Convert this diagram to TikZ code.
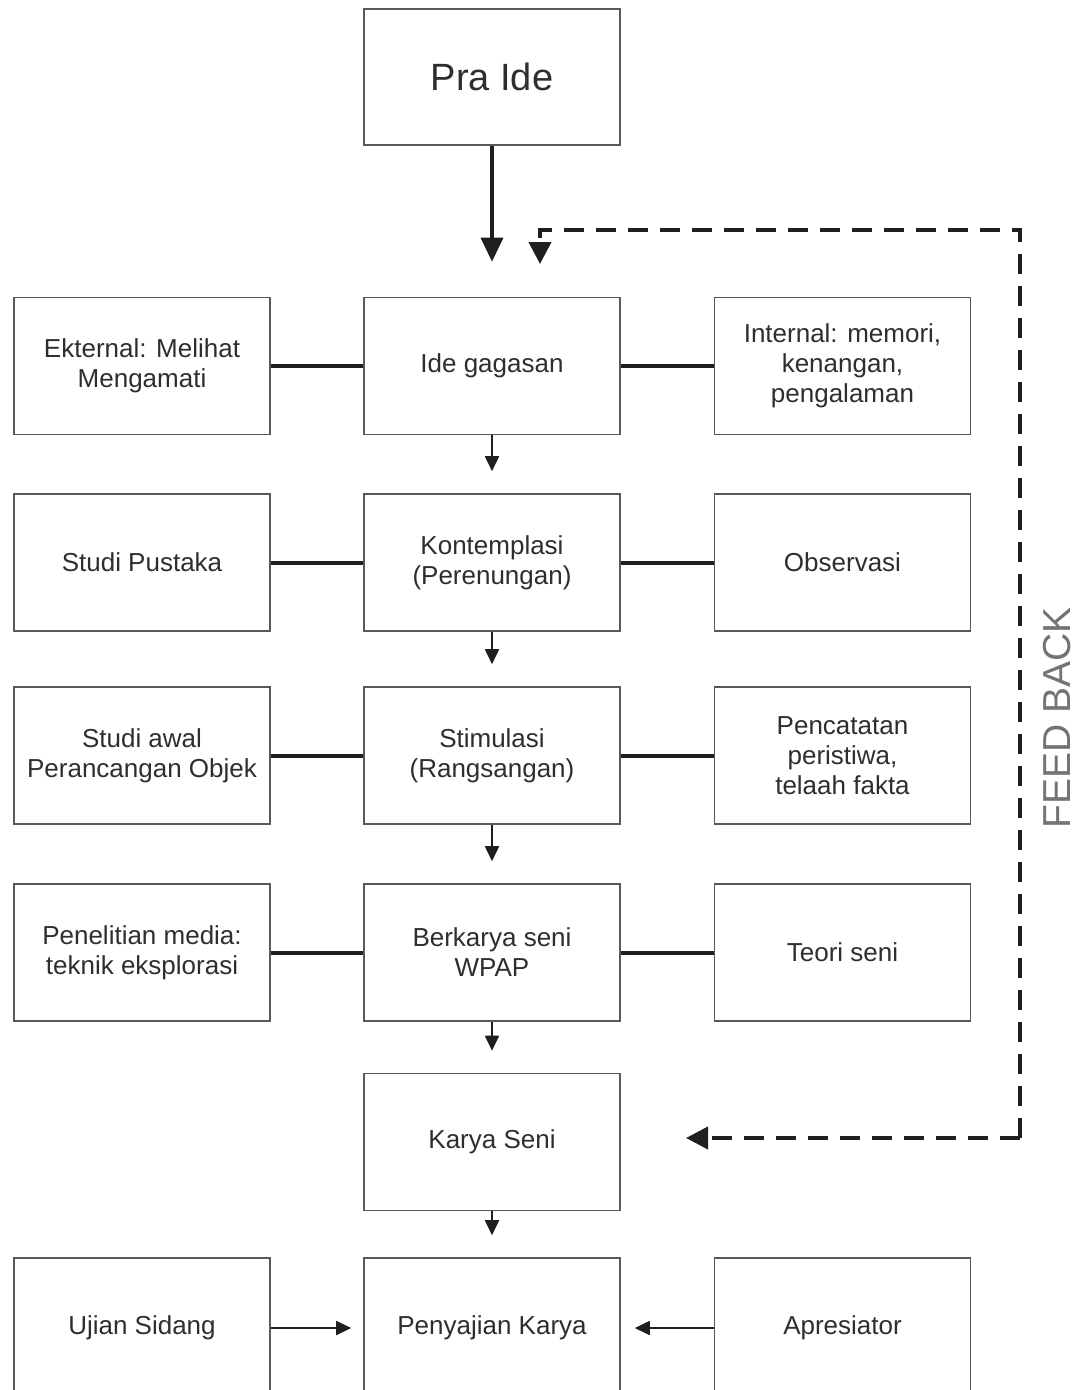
\documentclass[tikz,border=0pt]{standalone}
\usepackage{fontspec}
\setmainfont{Liberation Sans}
\usetikzlibrary{arrows.meta}
\begin{document}
\begin{tikzpicture}[x=1pt,y=-1pt,
  box/.style={draw=black!65, line width=1.6pt, minimum width=256pt, minimum height=137pt,
    inner sep=0pt, align=center, text=black!82, font=\fontsize{26}{30}\selectfont},
  conn/.style={line width=4pt, black!88},
  sarrow/.style={line width=1.8pt, black!88, -{Triangle[width=14pt,length=15pt]}},
  barrow/.style={line width=3.5pt, black!88, -{Triangle[width=22pt,length=24pt]}},
  fbline/.style={line width=4pt, black!88, dash pattern=on 20pt off 12pt},
]
\clip (0,0) rectangle (1083,1390);
\fill[white] (0,0) rectangle (1083,1390);

\node[box, minimum height=136pt, font=\fontsize{38}{44}\selectfont] (pra) at (492,77) {Pra Ide};

\node[box] (l1) at (142,366) {Ekternal: Melihat\\Mengamati};
\node[box] (c1) at (492,366) {Ide gagasan};
\node[box] (r1) at (842.5,366) {Internal: memori,\\kenangan,\\pengalaman};

\node[box] (l2) at (142,562.5) {Studi Pustaka};
\node[box] (c2) at (492,562.5) {Kontemplasi\\(Perenungan)};
\node[box] (r2) at (842.5,562.5) {Observasi};

\node[box] (l3) at (142,755.5) {Studi awal\\Perancangan Objek};
\node[box] (c3) at (492,755.5) {Stimulasi\\(Rangsangan)};
\node[box] (r3) at (842.5,755.5) {Pencatatan\\peristiwa,\\telaah fakta};

\node[box] (l4) at (142,952.5) {Penelitian media:\\teknik eksplorasi};
\node[box] (c4) at (492,952.5) {Berkarya seni\\WPAP};
\node[box] (r4) at (842.5,952.5) {Teori seni};

\node[box] (k) at (492,1142) {Karya Seni};

\node[box, minimum height=140pt] (l5) at (142,1328) {Ujian Sidang};
\node[box, minimum height=140pt] (c5) at (492,1328) {Penyajian Karya};
\node[box, minimum height=140pt] (r5) at (842.5,1328) {Apresiator};

% horizontal connectors
\foreach \i in {1,2,3,4}{
  \draw[conn] (l\i.east) -- (c\i.west);
  \draw[conn] (c\i.east) -- (r\i.west);
}

% vertical arrows
\draw[barrow, shorten >=35pt] (pra.south) -- (c1.north);
\draw[sarrow, shorten >=22pt] (c1.south) -- (c2.north);
\draw[sarrow, shorten >=22pt] (c2.south) -- (c3.north);
\draw[sarrow, shorten >=22pt] (c3.south) -- (c4.north);
\draw[sarrow, shorten >=22pt] (c4.south) -- (k.north);
\draw[sarrow, shorten >=22pt] (k.south) -- (c5.north);

% bottom side arrows
\draw[sarrow, shorten >=12pt] (l5.east) -- (c5.west);
\draw[sarrow, shorten >=14pt] (r5.west) -- (c5.east);

% feedback loop
\coordinate (fb1) at (1020,1138);
\coordinate (fb2) at (1020,230);
\coordinate (fb3) at (540,230);
\coordinate (fb4) at (540,264);
\coordinate (fbk) at (686,1138);
\draw[fbline, -{Triangle[width=22pt,length=22pt]}] (fb1) -- (fb2) -- (fb3) -- (fb4);
\draw[fbline, -{Triangle[width=22pt,length=22pt]}] (fb1) -- (fbk);

\node[rotate=90, text=black!55, font=\fontsize{39}{39}\selectfont] (fblabel) at (1057,718) {FEED BACK};
\end{tikzpicture}
\end{document}
